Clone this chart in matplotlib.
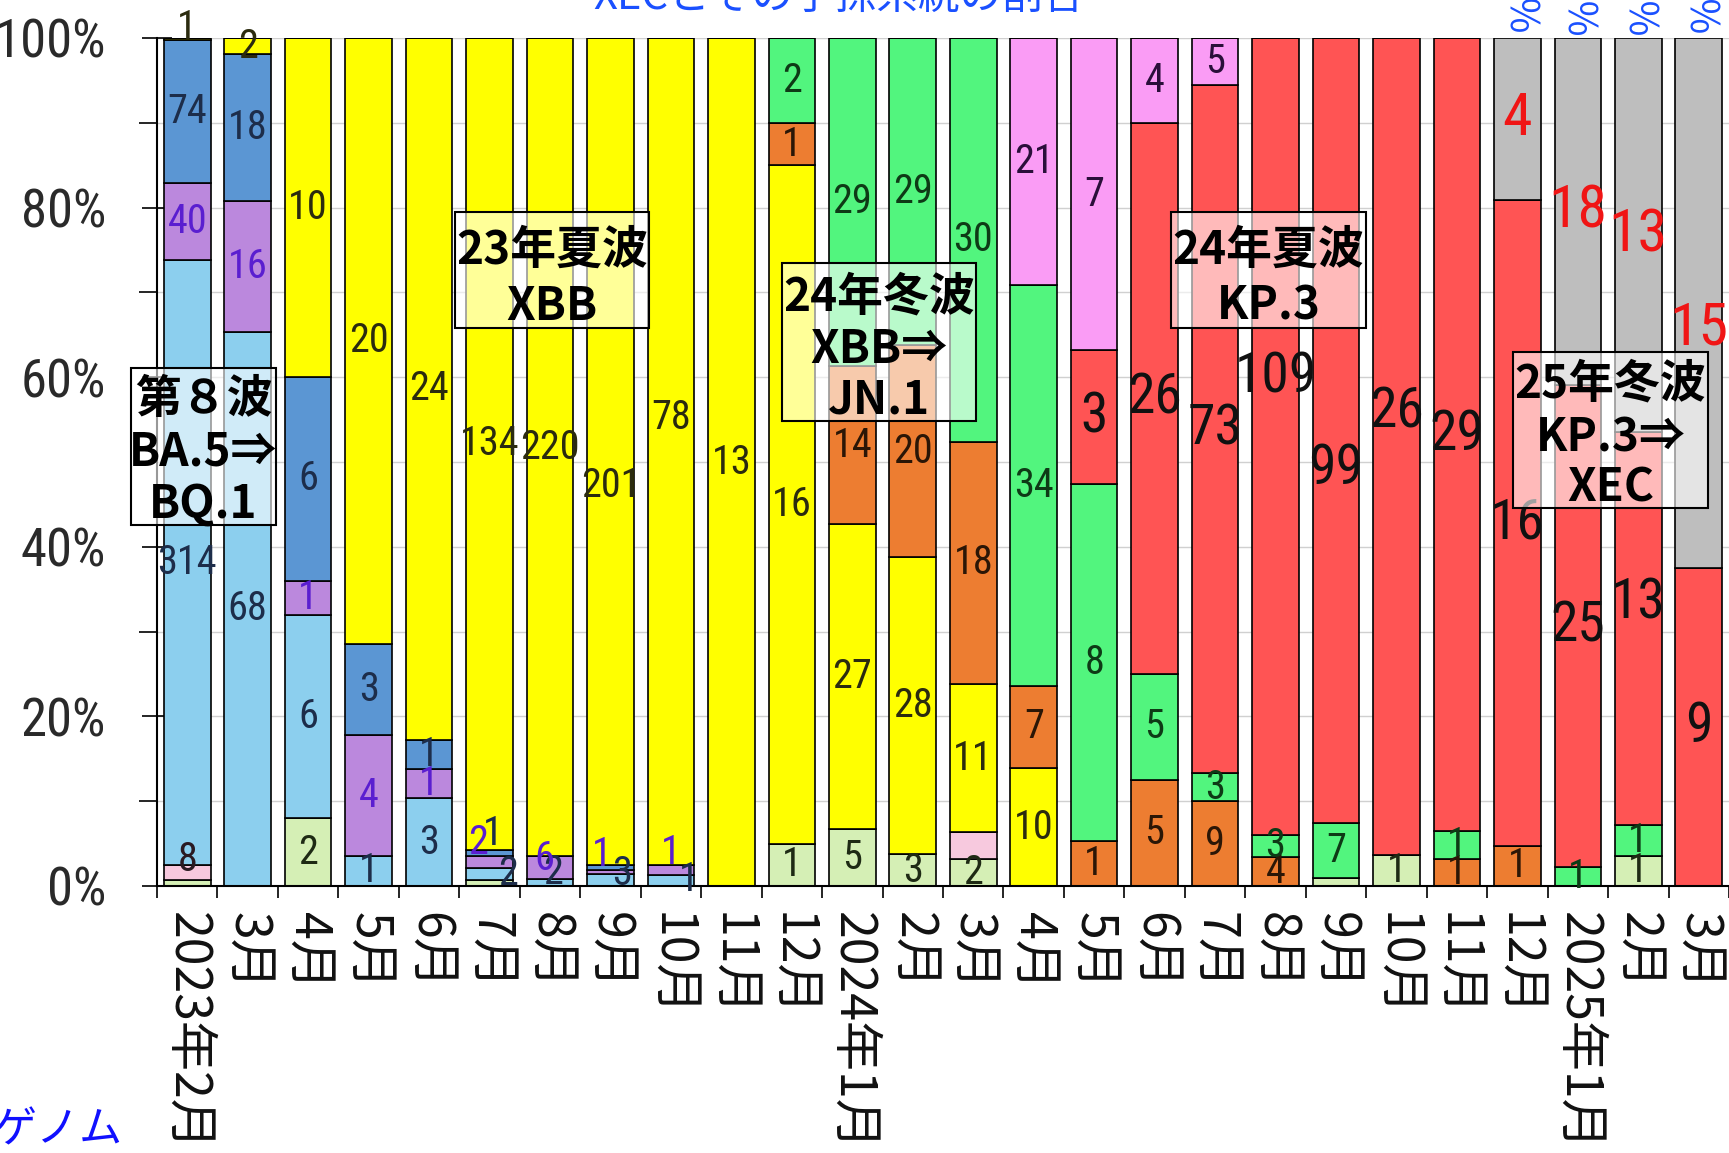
import numpy as np
import matplotlib
matplotlib.use("Agg")
import matplotlib.pyplot as plt
from matplotlib import font_manager as fm
from matplotlib.patches import Rectangle
import os

# ---------------- data ----------------
months = ["2023年2月", "3月", "4月", "5月", "6月", "7月", "8月", "9月", "10月", "11月", "12月",
          "2024年1月", "2月", "3月", "4月", "5月", "6月", "7月", "8月", "9月", "10月", "11月", "12月",
          "2025年1月", "2月", "3月"]

# counts per lineage group (stack order bottom -> top)
other   = [3, 0, 2, 0, 0, 1, 0, 0, 0, 0, 1, 5, 3, 2, 0, 0, 0, 0, 0, 1, 1, 0, 0, 0, 1, 0]
ba2     = [8, 0, 0, 0, 0, 0, 0, 0, 0, 0, 0, 0, 0, 2, 0, 0, 0, 0, 0, 0, 0, 0, 0, 0, 0, 0]
ba5     = [314, 68, 6, 1, 3, 2, 2, 3, 1, 0, 0, 0, 0, 0, 0, 0, 0, 0, 0, 0, 0, 0, 0, 0, 0, 0]
bq1     = [40, 16, 1, 4, 1, 2, 6, 1, 1, 0, 0, 0, 0, 0, 0, 0, 0, 0, 0, 0, 0, 0, 0, 0, 0, 0]
bq11    = [74, 18, 6, 3, 1, 1, 0, 1, 0, 0, 0, 0, 0, 0, 0, 0, 0, 0, 0, 0, 0, 0, 0, 0, 0, 0]
xbb     = [1, 2, 10, 20, 24, 134, 220, 201, 78, 13, 16, 27, 28, 11, 10, 0, 0, 0, 0, 0, 0, 0, 0, 0, 0, 0]
ba286   = [0, 0, 0, 0, 0, 0, 0, 0, 0, 0, 1, 14, 20, 18, 7, 1, 5, 9, 4, 0, 0, 1, 1, 0, 0, 0]
jn1     = [0, 0, 0, 0, 0, 0, 0, 0, 0, 0, 2, 29, 29, 30, 34, 8, 5, 3, 3, 7, 0, 1, 0, 1, 1, 0]
kp3     = [0, 0, 0, 0, 0, 0, 0, 0, 0, 0, 0, 0, 0, 0, 0, 3, 26, 73, 109, 99, 26, 29, 16, 25, 13, 9]
kp2     = [0, 0, 0, 0, 0, 0, 0, 0, 0, 0, 0, 0, 0, 0, 21, 7, 4, 5, 0, 0, 0, 0, 0, 0, 0, 0]
xec     = [0, 0, 0, 0, 0, 0, 0, 0, 0, 0, 0, 0, 0, 0, 0, 0, 0, 0, 0, 0, 0, 0, 4, 18, 13, 15]

series = [("other", other), ("ba2", ba2), ("ba5", ba5), ("bq1", bq1), ("bq11", bq11),
          ("xbb", xbb), ("ba286", ba286), ("jn1", jn1), ("kp3", kp3), ("kp2", kp2), ("xec", xec)]

# ---------------- styles ----------------
fill = {"other": "#D5EFB5", "ba2": "#F7C9DE", "ba5": "#8CCFEE", "bq1": "#BB88DD",
        "bq11": "#5B96D3", "xbb": "#FFFF00", "ba286": "#ED7D31", "jn1": "#52F57E",
        "kp3": "#FF5454", "kp2": "#FA9CF5", "xec": "#BEBEBE"}
txtcol = {"other": "#1E2A14", "ba2": "#2A1A22", "ba5": "#1D2D4A", "bq1": "#5A1ED0",
          "bq11": "#1D2D4A", "xbb": "#2B2B0F", "ba286": "#2B1606", "jn1": "#0E3A16",
          "kp3": "#111111", "kp2": "#2A0F3A", "xec": "#F01515"}

hidden = {(0, "other"), (5, "other"), (7, "bq11"), (13, "ba2"), (19, "other")}
offsets = {(0, "xbb"): (0, 1.3), (0, "ba2"): (0, 1.5),
           (5, "ba5"): (0.3, 0), (5, "bq1"): (-0.19, 2.3), (5, "bq11"): (0.05, 2.3),
           (6, "bq1"): (-0.1, 1.1), (6, "ba5"): (0.05, 1.1),
           (7, "bq1"): (-0.14, 2.0), (7, "ba5"): (0.19, 0.8),
           (8, "bq1"): (0, 2.1), (8, "ba5"): (0.3, 0.1),
           (7, "xbb"): (0, -4.0), (8, "xbb"): (0, 4.0),
           (18, "kp3"): (0, 7.0), (19, "kp3"): (0, -4.5), (20, "kp3"): (0, 4.0),
           (24, "kp3"): (0, 3.0), (25, "xec"): (0, -3.0)}

CJK = ["Noto Sans CJK JP", "DejaVu Sans"]
plt.rcParams["font.family"] = CJK


def find_narrow():
    pref = [("RobotoCondensed-Regular", 0), ("LiberationSansNarrow-Regular", 1),
            ("DejaVuSansCondensed", 2)]
    found = []
    for f in fm.fontManager.ttflist:
        base = os.path.splitext(os.path.basename(f.fname))[0]
        for nm, rank in pref:
            if base == nm:
                found.append((rank, f.fname))
    if found:
        found.sort()
        return found[0][1], found[0][0]
    return None, None


narrow_path, narrow_rank = find_narrow()
scale = 1.0 if narrow_rank in (0, 1) else 0.9


def numfont(size):
    if narrow_path:
        return fm.FontProperties(fname=narrow_path, size=size)
    return fm.FontProperties(family=CJK, size=size * 0.95)


W, H, DPI = 1729, 1153, 100
fig = plt.figure(figsize=(W / DPI, H / DPI), dpi=DPI, facecolor="white")
ax = fig.add_axes([157 / W, 1 - 886 / H, (W - 157) / W, 848 / H])

n = len(months)
x = np.arange(n)
totals = np.zeros(n)
for _, v in series:
    totals += np.array(v, dtype=float)

bottom = np.zeros(n)
for name, vals in series:
    vals = np.array(vals, dtype=float)
    pct = vals / totals * 100
    ax.bar(x, pct, bottom=bottom, width=0.77, color=fill[name], edgecolor="black",
           linewidth=1.2, zorder=2)
    for i in range(n):
        if vals[i] > 0 and (i, name) not in hidden:
            dx, dy = offsets.get((i, name), (0, 0))
            if name == "kp3":
                sz = 40
            elif name == "xec":
                sz = 43
            else:
                sz = 29
            ax.text(x[i] + dx, bottom[i] + pct[i] / 2 + dy, str(int(vals[i])),
                    ha="center", va="center", color=txtcol[name],
                    fontproperties=numfont(sz * scale), zorder=5)
    bottom += pct

ax.set_xlim(-0.5, n - 0.5)
ax.set_ylim(0, 100)

# y axis
ax.set_yticks(np.arange(0, 101, 20))
ax.set_yticks(np.arange(10, 100, 20), minor=True)
ax.set_yticklabels([f"{v}%" for v in range(0, 101, 20)])
ax.tick_params(axis="y", which="major", direction="inout", length=21.6, width=1.2,
               pad=26, color="black", labelcolor="#2A2A2A")
ax.tick_params(axis="y", which="minor", direction="out", length=13, width=1.2, color="black")
for lab in ax.get_yticklabels():
    lab.set_fontproperties(numfont(38 * scale))

# x axis
ax.set_xticks(x)
ax.set_xticklabels(months, rotation=270, fontsize=36, family=CJK)
ax.set_xticks(np.arange(-0.5, n, 1), minor=True)
ax.tick_params(axis="x", which="major", length=0, pad=19, labelcolor="#111111")
ax.tick_params(axis="x", which="minor", direction="out", length=8.6, width=1.2, color="black")

ax.grid(axis="y", which="both", color="#D0D0D0", linewidth=1.0)
ax.set_axisbelow(True)
for s in ("top", "right"):
    ax.spines[s].set_visible(False)
for s in ("left", "bottom"):
    ax.spines[s].set_linewidth(1.5)
    ax.spines[s].set_color("black")

# wave annotation boxes: (x0, x1), (ytop, ybottom), lines, baseline fractions
boxes = [
    ((-0.93, 1.468), (61.1, 42.6), ["第８波", "BA.5⇒", "BQ.1"], [0.29, 0.62, 0.955]),
    ((4.43, 7.64), (79.5, 65.8), ["23年夏波", "XBB"], [0.45, 0.93]),
    ((9.84, 13.05), (73.5, 54.8), ["24年冬波", "XBB⇒", "JN.1"], [0.30, 0.63, 0.95]),
    ((16.27, 19.50), (79.5, 65.8), ["24年夏波", "KP.3"], [0.45, 0.93]),
    ((21.93, 25.15), (63.0, 44.6), ["25年冬波", "KP.3⇒", "XEC"], [0.295, 0.64, 0.96]),
]
for (x0, x1), (yt, yb), lines, fr in boxes:
    ax.add_patch(Rectangle((x0, yb), x1 - x0, yt - yb, facecolor=(1, 1, 1, 0.6),
                           edgecolor="black", linewidth=1.5, zorder=10, clip_on=False))
    for ln, f in zip(lines, fr):
        ax.text((x0 + x1) / 2, yt - f * (yt - yb), ln, ha="center", va="baseline",
                fontsize=33, fontweight="bold", family=CJK, color="black",
                zorder=11, clip_on=False)

# XEC share labels above the bars (cut off at the top of the image)
xec_arr = np.array(xec, dtype=float)
for i in range(n):
    if xec_arr[i] > 0:
        ax.text(x[i], 100.2, f"{xec_arr[i] / totals[i] * 100:.1f}%", rotation=270,
                ha="center", va="bottom", color="#1A50FF", fontsize=28, family=CJK,
                clip_on=False, zorder=6)

# partially visible title and source text
fig.text(593 / W, 1 - 9 / H, "XECとその子孫系統の割合", ha="left", va="baseline",
         color="#1A50FF", fontsize=30, family=CJK)
fig.text(123 / W, 1 - 1142 / H, "ゲノム", ha="right", va="baseline",
         color="#1010FF", fontsize=31, family=CJK)

fig.savefig("out.png", dpi=DPI, facecolor="white")
